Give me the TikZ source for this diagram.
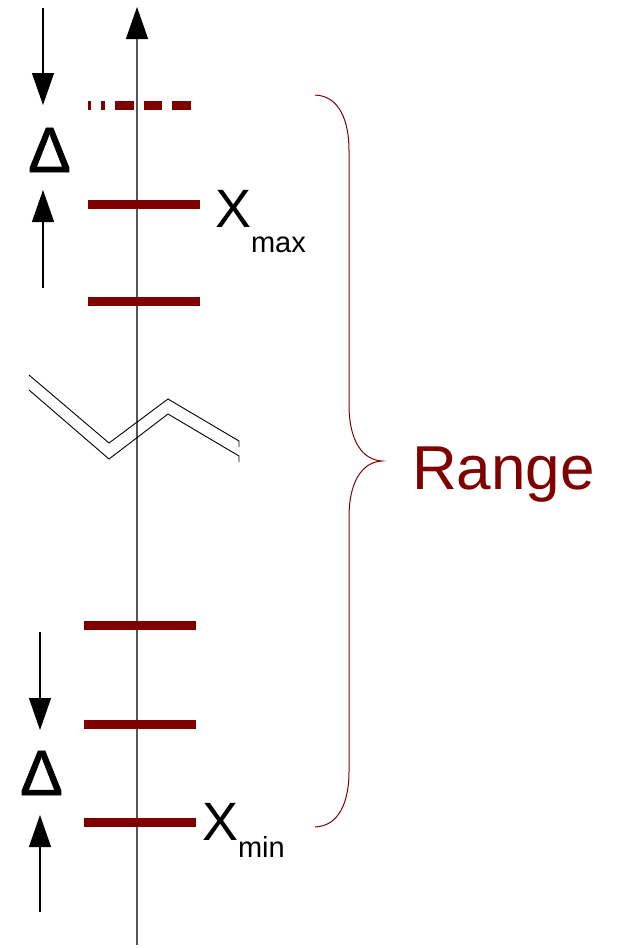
\documentclass[tikz,border=0pt]{standalone}
\usepackage{fontspec}
\setmainfont{Liberation Sans}
\newfontfamily\deltafont[FakeBold=1.2]{Liberation Sans}
\usetikzlibrary{arrows.meta}
\definecolor{maroon}{HTML}{800000}
\definecolor{axisgray}{HTML}{555555}
\begin{document}
\begin{tikzpicture}[x=1pt,y=-1pt,
  level/.style={draw=maroon,line width=9pt},
  axisline/.style={draw=axisgray,line width=1.3pt},
  pointer/.style={draw=black,line width=1.2pt,-{Triangle[length=32pt,width=22pt]}},
  breakline/.style={draw=black,line width=0.9pt},
  brace/.style={draw=maroon,line width=1pt},
  lbl/.style={inner sep=0pt,outer sep=0pt,anchor=base west},
  deltalbl/.style={inner sep=0pt,outer sep=0pt,anchor=base,font=\deltafont\fontsize{64}{70}\selectfont}]
\useasboundingbox (0,0) rectangle (616,948);

% vertical value axis
\coordinate (axbot) at (137,945);
\coordinate (axtop) at (137,7);
\draw[axisline,-{Triangle[length=32pt,width=22pt,color=black]}] (axbot) -- (axtop);

% quantisation levels
\draw[level,dash pattern=on 3pt off 10pt on 4pt off 10pt on 19pt off 10pt on 18pt off 10pt on 19pt off 10pt]
  (88,105) -- (191,105);
\draw[level] (88,204) -- (200,204);
\draw[level] (88,301) -- (200,301);
\draw[level] (84,625) -- (196,625);
\draw[level] (84,724) -- (196,724);
\draw[level] (84,822) -- (196,822);

% axis break
\draw[breakline] (29,375) -- (109,443) -- (168,399) -- (239,441) -- (239,447);
\draw[breakline] (29,390) -- (109,459) -- (168,414) -- (239,456) -- (239,462);

% step size markers
\coordinate (dA1) at (43,8);    \coordinate (dA2) at (43,105);
\coordinate (dB1) at (43,288);  \coordinate (dB2) at (43,190);
\coordinate (dC1) at (40,632);  \coordinate (dC2) at (40,730);
\coordinate (dD1) at (40,912);  \coordinate (dD2) at (40,815);
\draw[pointer] (dA1) -- (dA2);
\draw[pointer] (dB1) -- (dB2);
\draw[pointer] (dC1) -- (dC2);
\draw[pointer] (dD1) -- (dD2);
\node[deltalbl] (deltatop) at (49.5,172) {Δ};
\node[deltalbl] (deltabot) at (41.5,795) {Δ};

% end labels
\node[lbl] (xmax) at (215,227) {\fontsize{54}{60}\selectfont X\raisebox{-25pt}{\fontsize{29}{32}\selectfont max}};
\node[lbl] (xmin) at (202,840) {\fontsize{54}{60}\selectfont X\raisebox{-17pt}{\fontsize{29}{32}\selectfont min}};

% range brace
\draw[brace] (315,95) .. controls (340,96) and (349,122) .. (349,150)
  -- (349,405) .. controls (349,440) and (362,460) .. (382,461)
  .. controls (362,462) and (349,482) .. (349,517)
  -- (349,772) .. controls (349,800) and (340,826) .. (315,827);
\node[lbl,text=maroon,font=\fontsize{62}{68}\selectfont] (range) at (412,489) {Range};
\end{tikzpicture}
\end{document}
